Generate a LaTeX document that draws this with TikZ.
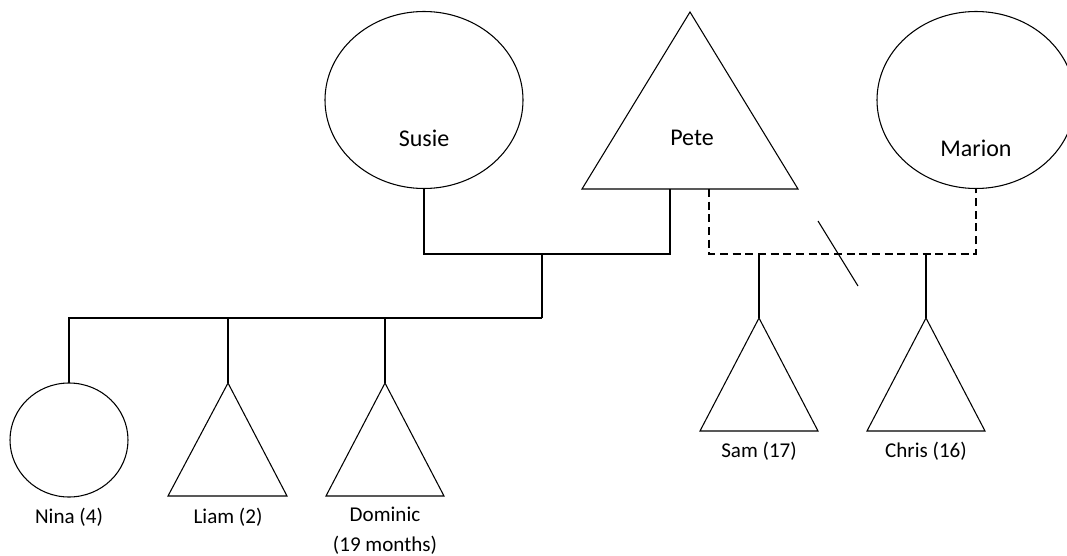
\documentclass[tikz,border=0pt]{standalone}
\usepackage{fontspec}
\setmainfont{Carlito}
\usetikzlibrary{shapes.geometric}
\tikzset{
  shp/.style={draw=black, line width=0.8pt},
  con/.style={draw=black, line width=0.8pt},
  dcon/.style={draw=black, line width=0.8pt, dash pattern=on 6pt off 3.5pt},
  bigname/.style={font=\fontsize{18}{22}\selectfont, inner sep=0pt},
  smallname/.style={font=\fontsize{15.8}{22.5}\selectfont, inner sep=0pt, align=center},
}
\begin{document}
\begin{tikzpicture}[x=0.75pt,y=-0.75pt]
\useasboundingbox (0,0) rectangle (1067,556);
\clip (0,0) rectangle (1067,556);
% parents
\draw[shp] (424,100) ellipse [x radius=99, y radius=88.5];
\coordinate (susie) at (424,189);
\node[bigname] (susiet) at (424,138) {Susie};
\draw[shp] (690,12) -- (798,189) -- (582,189) -- cycle;
\coordinate (peteL) at (670,189);
\coordinate (peteR) at (709,189);
\node[bigname] (petet) at (692,138) {Pete};
\draw[shp] (976,100) ellipse [x radius=99, y radius=88.5];
\coordinate (marion) at (976,189);
\node[bigname] (mariont) at (976,148) {Marion};
% marriage Susie-Pete
\coordinate (sp) at (542,254);
\draw[con] (susie) |- (sp) -| (peteL);
\coordinate (kids) at (542,318);
\draw[con] (sp) -- (kids);
% children
\draw[shp] (69,440) ellipse [x radius=59, y radius=57];
\coordinate (nina) at (69,383);
\node[smallname] (ninat) at (69,517) {Nina (4)};
\draw[shp] (228,383) -- (287,496) -- (168,496) -- cycle;
\coordinate (liam) at (228,383);
\node[smallname] (liamt) at (228,517) {Liam (2)};
\draw[shp] (385,383) -- (444,496) -- (326,496) -- cycle;
\coordinate (dom) at (385,383);
\node[smallname] (domt) at (385,531) {Dominic\\(19 months)};
\draw[con] (kids) -| (nina);
\draw[con] (liam) -- (liam |- kids);
\draw[con] (dom) -- (dom |- kids);
% Pete-Marion (dashed, divorced)
\coordinate (pm) at (843,254);
\draw[dcon] (peteR) |- (pm) -| (marion);
\coordinate (d1) at (818,221);
\coordinate (d2) at (858,286);
\draw[con] (d1) -- (d2);
\draw[shp] (759,318) -- (818,431) -- (700,431) -- cycle;
\coordinate (sam) at (759,318);
\node[smallname] (samt) at (759,451) {Sam (17)};
\draw[shp] (926,318) -- (985,431) -- (867,431) -- cycle;
\coordinate (chris) at (926,318);
\node[smallname] (christ) at (926,451) {Chris (16)};
\draw[con] (sam) -- (sam |- pm);
\draw[con] (chris) -- (chris |- pm);
\end{tikzpicture}
\end{document}
